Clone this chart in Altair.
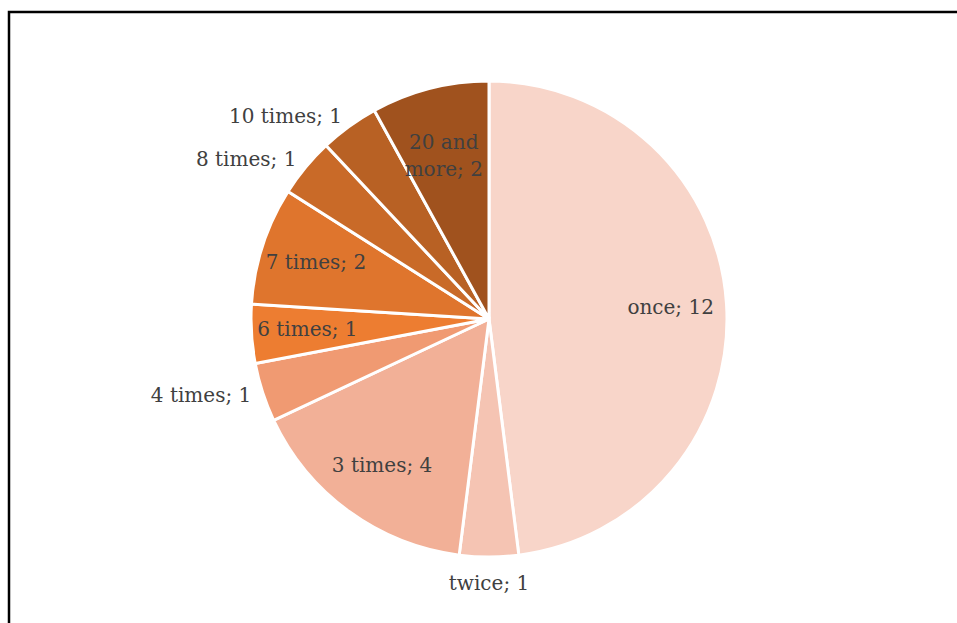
import altair as alt
import pandas as pd

categories = ["once", "twice", "3 times", "4 times", "6 times", "7 times", "8 times", "10 times", "20 and more"]
values = [12, 1, 4, 1, 1, 2, 1, 1, 2]
colors = ["#F8D5C9", "#F5C4B3", "#F2B097", "#F09A72", "#ED7D31", "#DF752D", "#C96A28", "#B86124", "#A0521E"]
inside = ["once", "3 times", "6 times", "7 times", "20 and more"]
outside_left = ["4 times", "8 times", "10 times"]
bottom = ["twice"]

labels = []
for c, v in zip(categories, values):
    t = f"{c}; {v}"
    if c == "20 and more":
        t = "20 and\nmore; 2"
    labels.append(t)

df = pd.DataFrame({
    "category": categories,
    "value": values,
    "idx": list(range(len(categories))),
    "label": labels,
})

W, H = 948, 611
CX, CY = 480, 307

base = alt.Chart(df).transform_joinaggregate(
    total="sum(value)"
).transform_stack(
    stack="value", groupby=[], as_=["v0", "v1"], sort=[alt.SortField("idx", order="ascending")]
).transform_calculate(
    f0="datum.v0 / datum.total",
    f1="datum.v1 / datum.total",
    fm="(datum.v0 + datum.v1) / 2 / datum.total",
)

tscale = alt.Scale(domain=[0, 1], range=[0, 6.283185307179586])

pie = base.mark_arc(outerRadius=238, stroke="white", strokeWidth=3).encode(
    theta=alt.Theta("f0:Q", scale=tscale, stack=None),
    theta2="f1:Q",
    x=alt.value(CX), y=alt.value(CY),
    color=alt.Color("category:N", scale=alt.Scale(domain=categories, range=colors), legend=None),
)

font = "DejaVu Serif"
FS = 20
tenc = dict(theta=alt.Theta("fm:Q", scale=tscale, stack=None), x=alt.value(CX), y=alt.value(CY), text="label:N")

txt_in = base.transform_filter(
    alt.FieldOneOfPredicate(field="category", oneOf=inside)
).mark_text(radius=182, font=font, fontSize=FS, color="#404040", align="center",
            baseline="middle", lineBreak="\n", lineHeight=27).encode(**tenc)

txt_left = base.transform_filter(
    alt.FieldOneOfPredicate(field="category", oneOf=outside_left)
).mark_text(radius=250, font=font, fontSize=FS, color="#404040", align="right",
            baseline="middle").encode(**tenc)

txt_bottom = base.transform_filter(
    alt.FieldOneOfPredicate(field="category", oneOf=bottom)
).mark_text(radius=265, font=font, fontSize=FS, color="#404040", align="center",
            baseline="middle").encode(**tenc)

frame = alt.Chart(pd.DataFrame({"a": [0]})).mark_rect(
    fill=None, stroke="black", strokeWidth=2.5
).encode(x=alt.value(0), x2=alt.value(W + 20), y=alt.value(0), y2=alt.value(H + 20))

chart = alt.layer(frame, pie, txt_in, txt_left, txt_bottom).properties(
    width=W, height=H,
    padding={"left": 9, "top": 12, "right": 0, "bottom": 0},
    autosize="none",
    background="white",
).configure_view(stroke=None)

chart.save("out.html", embed_options={"renderer": "svg", "actions": False})
